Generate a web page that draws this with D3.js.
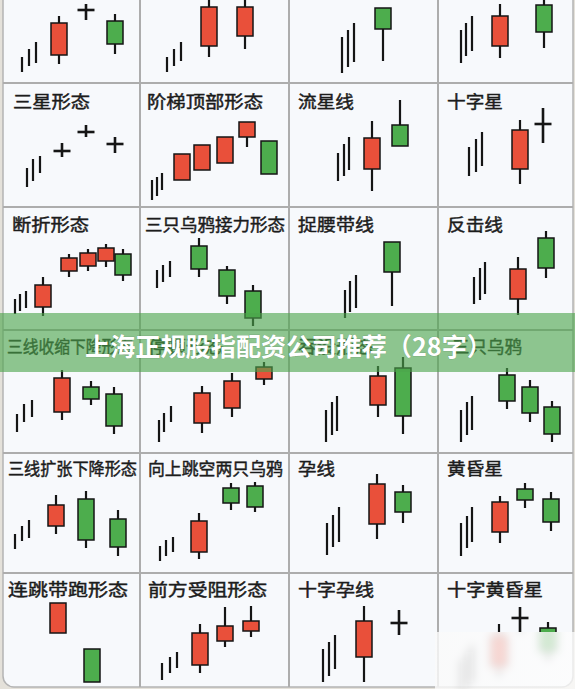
<!DOCTYPE html>
<html><head><meta charset="utf-8">
<script src="https://cdn.jsdelivr.net/npm/d3@7"></script>
<style>
html,body{margin:0;padding:0;background:#e4e1da;}
svg{display:block;}
</style></head><body>
<svg id="chart" width="575" height="689"></svg>
<script>
// ---------- data ----------
// panel titles, row by row (top row is cut off in the picture)
const titles = [
  null, null, null, null,
  "三星形态", "阶梯顶部形态", "流星线", "十字星",
  "断折形态", "三只乌鸦接力形态", "捉腰带线", "反击线",
  "三线收缩下降形态", "停顿形态", "吞没形态", "三只乌鸦",
  "三线扩张下降形态", "向上跳空两只乌鸦", "孕线", "黄昏星",
  "连跳带跑形态", "前方受阻形态", "十字孕线", "十字黄昏星"
];
// preceding up-trend strokes per panel: [time, low, high]
const trendTicks = [
  [[19,11,26],[26,17,34],[33,20,41]],
  [[27,11,26],[34,17,34],[41,22,41]],
  [[53,10,46],[59,16,53],[65,21,60]],
  [[23,20,53],[28,27,60],[34,32,67]],
  [[24,20,39],[30,26,48],[37,34,51]],
  [[12,7,27],[17,11,30],[22,17,34]],
  [[49,26,54],[55,31,63],[60,37,70]],
  [[31,31,60],[38,35,68],[44,41,75]],
  [[12,16,31],[17,19,36],[23,22,39]],
  [[17,42,60],[23,48,65],[30,53,69]],
  [[56,12,40],[61,18,49],[67,22,55]],
  [[36,26,53],[42,30,62],[47,36,68]],
  [[14,21,39],[21,31,49],[29,36,53]],
  [[19,11,33],[24,21,40],[31,31,47]],
  [[37,11,43],[43,18,51],[48,22,57]],
  [[23,11,43],[29,18,51],[34,23,57]],
  [[12,24,39],[19,32,47],[26,35,53]],
  [[20,12,27],[26,17,33],[33,21,36]],
  [[38,18,50],[44,26,58],[50,31,66]],
  [[23,17,50],[29,25,57],[34,31,66]],
  [],
  [[22,16,33],[30,23,39],[37,28,44]],
  [[34,14,47],[40,20,54],[46,27,61]],
  [[23,2,36],[29,8,44],[34,14,51]]
];
// candles per panel: t = time, o/h/l/c = open/high/low/close (o == c -> doji cross)
const candles = [
  [{t:56,o:28,h:67,l:19,c:60},{t:83,o:73,h:79,l:63,c:73},{t:112,o:62,h:69,l:29,c:39}],
  [{t:69,o:37,h:95,l:26,c:76},{t:105,o:47,h:95,l:34,c:76}],
  [{t:94,o:75,h:75,l:22,c:54}],
  [{t:62,o:37,h:79,l:25,c:67},{t:106,o:78,h:90,l:35,c:51}],
  [{t:59,o:56,h:64,l:50,c:56},{t:83,o:75,h:82,l:70,c:75},{t:112,o:63,h:70,l:54,c:63}],
  [{t:42,o:27,h:53,l:27,c:53},{t:62,o:37,h:62,l:37,c:62},{t:85,o:44,h:70,l:44,c:70},{t:107,o:70,h:85,l:60,c:85},{t:129,o:66,h:66,l:33,c:33}],
  [{t:83,o:38,h:86,l:16,c:69},{t:111,o:82,h:107,l:61,c:61}],
  [{t:82,o:38,h:87,l:23,c:77},{t:105,o:83,h:99,l:64,c:83}],
  [{t:40,o:23,h:53,l:14,c:45},{t:66,o:59,h:76,l:53,c:72},{t:85,o:64,h:81,l:59,c:77},{t:103,o:69,h:86,l:63,c:82},{t:120,o:76,h:81,l:49,c:55}],
  [{t:59,o:84,h:92,l:53,c:61},{t:87,o:60,h:64,l:26,c:34},{t:113,o:39,h:45,l:4,c:12}],
  [{t:103,o:88,h:88,l:24,c:58}],
  [{t:80,o:31,h:73,l:15,c:61},{t:108,o:92,h:99,l:52,c:62}],
  [{t:59,o:41,h:83,l:33,c:75},{t:88,o:66,h:72,l:48,c:54},{t:111,o:59,h:66,l:19,c:27}],
  [{t:62,o:30,h:67,l:20,c:60},{t:92,o:45,h:80,l:36,c:72},{t:124,o:74,h:91,l:68,c:86}],
  [{t:89,o:48,h:87,l:36,c:77},{t:114,o:85,h:96,l:19,c:37}],
  [{t:69,o:78,h:85,l:44,c:52},{t:92,o:66,h:73,l:31,c:40},{t:114,o:46,h:52,l:11,c:19}],
  [{t:53,o:47,h:78,l:39,c:68},{t:83,o:74,h:82,l:25,c:33},{t:115,o:54,h:63,l:17,c:26}],
  [{t:59,o:21,h:60,l:14,c:52},{t:91,o:85,h:90,l:63,c:70},{t:115,o:87,h:91,l:61,c:66}],
  [{t:88,o:49,h:99,l:34,c:89},{t:114,o:81,h:88,l:50,c:61}],
  [{t:62,o:41,h:77,l:30,c:71},{t:87,o:84,h:90,l:65,c:73},{t:113,o:74,h:81,l:42,c:51}],
  [{t:55,o:63,h:93,l:63,c:93},{t:89,o:47,h:47,l:14,c:14}],
  [{t:60,o:31,h:72,l:23,c:63},{t:85,o:55,h:89,l:49,c:70},{t:111,o:65,h:90,l:59,c:75}],
  [{t:75,o:39,h:90,l:14,c:75},{t:110,o:73,h:86,l:61,c:73}],
  [{t:61,o:30,h:72,l:20,c:60},{t:82,o:78,h:89,l:64,c:78},{t:110,o:68,h:74,l:36,c:45}]
];
const bannerText = "上海正规股指配资公司推荐（28字）";

// ---------- layout ----------
const W = 575, H = 689;
const colEdges = [3, 140, 289, 438, 573];
const rowEdges = [-40, 83, 207, 330, 453, 573, 696];
const titleBase = [null, 108, 231, 353, 475, 596];
// [x, textLength] for each title
const titleLayout = [
  null,null,null,null,
  [13,77],[147,116],[298,56],[447,56],
  [12,77],[145,140],[298,76],[447,56],
  [7,126],[148,76],[298,76],[452,70],
  [8,129],[148,135],[298,37],[447,56],
  [8,120],[148,119],[298,76],[447,96]
];
const RED = "#e9503a", GREEN = "#4dad4d", INK = "#151515";
const fade = {x:435, y:632, w:140, h:57};

const svg = d3.select("#chart");
const defs = svg.append("defs");
defs.append("clipPath").attr("id","clipTop").append("rect")
  .attr("x",0).attr("y",0).attr("width",W).attr("height",fade.y);
defs.append("clipPath").attr("id","clipFade").append("rect")
  .attr("x",fade.x).attr("y",fade.y).attr("width",fade.w).attr("height",fade.h);
defs.append("filter").attr("id","blur").attr("x","-50%").attr("y","-50%").attr("width","200%").attr("height","200%")
  .append("feGaussianBlur").attr("stdDeviation",4);
const lg = defs.append("linearGradient").attr("id","fadeGrad").attr("x1",0).attr("x2",1).attr("y1",0).attr("y2",0);
lg.append("stop").attr("offset","0%").attr("stop-color","#fafafa").attr("stop-opacity",0.82);
lg.append("stop").attr("offset","100%").attr("stop-color","#fdfdfd").attr("stop-opacity",0.75);

// frame
svg.append("rect").attr("x",3).attr("y",-20).attr("width",570).attr("height",707)
  .attr("rx",11).attr("fill","#f7f9fc").attr("stroke","#b4b4b4").attr("stroke-width",1.5);

// grid
const grid = svg.append("g").attr("stroke","#adadad").attr("stroke-width",2);
colEdges.slice(1,-1).forEach(x => grid.append("line").attr("x1",x).attr("x2",x).attr("y1",0).attr("y2",687));
rowEdges.slice(1,-1).forEach(y => grid.append("line").attr("x1",3).attr("x2",573).attr("y1",y).attr("y2",y));

function drawMarks(g, i) {
  const r = Math.floor(i/4), c = i%4;
  const x = d3.scaleLinear().domain([0, colEdges[c+1]-colEdges[c]]).range([colEdges[c], colEdges[c+1]]);
  const y = d3.scaleLinear().domain([0, rowEdges[r+1]-rowEdges[r]]).range([rowEdges[r+1], rowEdges[r]]);
  g.selectAll("line.tick").data(trendTicks[i]).join("line").attr("class","tick")
    .attr("x1",d=>x(d[0])).attr("x2",d=>x(d[0])).attr("y1",d=>y(d[1])).attr("y2",d=>y(d[2]))
    .attr("stroke",INK).attr("stroke-width",2.2);
  const cg = g.selectAll("g.candle").data(candles[i]).join("g").attr("class","candle");
  cg.append("line").attr("x1",d=>x(d.t)).attr("x2",d=>x(d.t)).attr("y1",d=>y(d.h)).attr("y2",d=>y(d.l))
    .attr("stroke",INK).attr("stroke-width",d=>d.o===d.c?2.6:2.2);
  const bw = 16;
  cg.filter(d=>d.o!==d.c).append("rect")
    .attr("x",d=>x(d.t)-bw/2).attr("width",bw)
    .attr("y",d=>y(Math.max(d.o,d.c))).attr("height",d=>Math.abs(y(d.o)-y(d.c)))
    .attr("fill",d=>d.c>d.o?RED:GREEN).attr("stroke",INK).attr("stroke-width",1.5);
  cg.filter(d=>d.o===d.c).append("line")
    .attr("x1",d=>x(d.t)-8.5).attr("x2",d=>x(d.t)+8.5).attr("y1",d=>y(d.o)).attr("y2",d=>y(d.o))
    .attr("stroke",INK).attr("stroke-width",2.6);
}

const marks = svg.append("g");
for (let i = 0; i < 24; i++) {
  if (i === 23) {
    drawMarks(marks.append("g").attr("clip-path","url(#clipTop)"), i);
    const b = marks.append("g").attr("clip-path","url(#clipFade)").append("g").attr("filter","url(#blur)");
    drawMarks(b, i);
  } else {
    drawMarks(marks.append("g"), i);
  }
}

// titles
const tg = svg.append("g").attr("font-family","'Noto Sans CJK SC','Noto Sans',sans-serif")
  .attr("font-size",17).attr("fill","#1c1c1c").attr("stroke","#1c1c1c").attr("stroke-width",0.45);
titles.forEach((t,i) => {
  if (!t) return;
  const r = Math.floor(i/4);
  tg.append("text").attr("x",titleLayout[i][0]).attr("y",titleBase[r])
    .attr("textLength",titleLayout[i][1]).attr("lengthAdjust","spacingAndGlyphs").text(t);
});

// bottom-right faded watermark area
svg.append("rect").attr("x",fade.x).attr("y",fade.y).attr("width",fade.w).attr("height",fade.h)
  .attr("fill","url(#fadeGrad)");

// banner
svg.append("rect").attr("x",0).attr("y",313).attr("width",W).attr("height",59)
  .attr("fill","#4ca44c").attr("opacity",0.62);
svg.append("text").attr("x",85).attr("y",356)
  .attr("font-family","'Noto Sans CJK SC','Noto Sans',sans-serif").attr("font-weight","bold")
  .attr("font-size",25).attr("fill","#ffffff")
  .attr("stroke","rgba(0,0,0,0.12)").attr("stroke-width",1).attr("paint-order","stroke")
  .attr("textLength",407).attr("lengthAdjust","spacingAndGlyphs")
  .text(bannerText);
</script>
</body></html>
